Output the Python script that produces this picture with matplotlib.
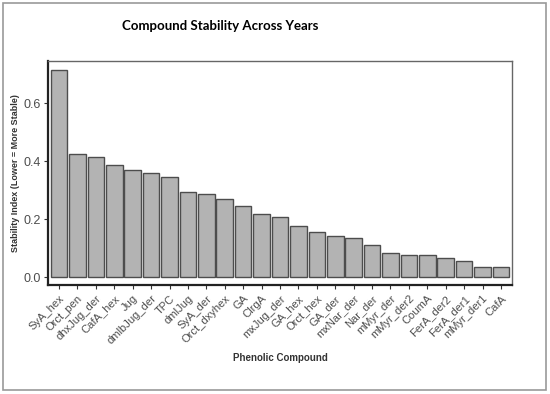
import matplotlib
matplotlib.use("Agg")
import matplotlib.pyplot as plt
from matplotlib.patches import Rectangle

plt.rcParams['font.family'] = ['Liberation Sans', 'DejaVu Sans']
axis_font = ['Liberation Sans', 'DejaVu Sans']

# data
compounds = ['SyA_hex', 'Orct_pen', 'dhxJug_der', 'CafA_hex', 'Jug', 'dmlbJug_der',
             'TPC', 'dmlJug', 'SyA_der', 'Orct_dxyhex', 'GA', 'ClrgA', 'mxJug_der',
             'GA_hex', 'Orct_hex', 'GA_der', 'mxNar_der', 'Nar_der', 'mMyr_der',
             'mMyr_der2', 'CoumA', 'FerA_der2', 'FerA_der1', 'mMyr_der1', 'CafA']
stability = [0.715, 0.423, 0.413, 0.386, 0.369, 0.358, 0.345, 0.293, 0.285,
             0.271, 0.246, 0.216, 0.206, 0.177, 0.157, 0.143, 0.135, 0.112,
             0.085, 0.077, 0.077, 0.066, 0.056, 0.034, 0.034]
yticks = [0.0, 0.2, 0.4, 0.6]

fig = plt.figure(figsize=(5.5, 3.94), dpi=100)
W, H = 550, 394
ax = fig.add_axes([48 / W, 1 - 285 / H, (512 - 48) / W, (285 - 61) / H])

x = range(len(compounds))
ax.bar(x, stability, width=0.9, color='#b3b3b3', edgecolor='#4d4d4d', linewidth=1.0)

ax.set_xlim(-0.6, len(compounds) - 0.4)
ax.set_ylim(-0.027, 0.745)
ax.set_yticks(yticks)
ax.set_yticklabels([f'{v:.1f}' for v in yticks], fontsize=9, color='#4d4d4d',
                   fontfamily=axis_font)
ax.set_xticks(list(x))
ax.set_xticklabels(compounds, rotation=45, ha='right', rotation_mode='anchor',
                   fontsize=8, color='#4d4d4d', fontfamily=axis_font)
ax.tick_params(axis='both', length=3, width=0.8, color='#333333', pad=2)
ax.tick_params(axis='x', pad=3)

for side in ['top', 'right']:
    ax.spines[side].set_color('#666666')
    ax.spines[side].set_linewidth(1.0)
for side in ['left', 'bottom']:
    ax.spines[side].set_color('#222222')
    ax.spines[side].set_linewidth(1.6)

ax.set_ylabel('Stability Index (Lower = More Stable)', fontsize=6.5,
              fontweight='bold', color='#333333', labelpad=3, fontfamily=axis_font)
ax.set_xlabel('Phenolic Compound', fontsize=7, fontweight='bold',
              color='#333333', labelpad=5, fontfamily=axis_font)

fig.text(220 / W, 1 - 26 / H, 'Compound Stability Across Years', fontsize=9.5,
         fontweight='bold', ha='center', va='center', color='#000000',
         family=['Lato', 'DejaVu Sans'])

# outer frame around the picture
fig.patches.append(Rectangle((3 / W, 4 / H), 543 / W, 387 / H, transform=fig.transFigure,
                             fill=False, edgecolor='#999999', linewidth=1.2))

fig.savefig('out.png', dpi=100)
